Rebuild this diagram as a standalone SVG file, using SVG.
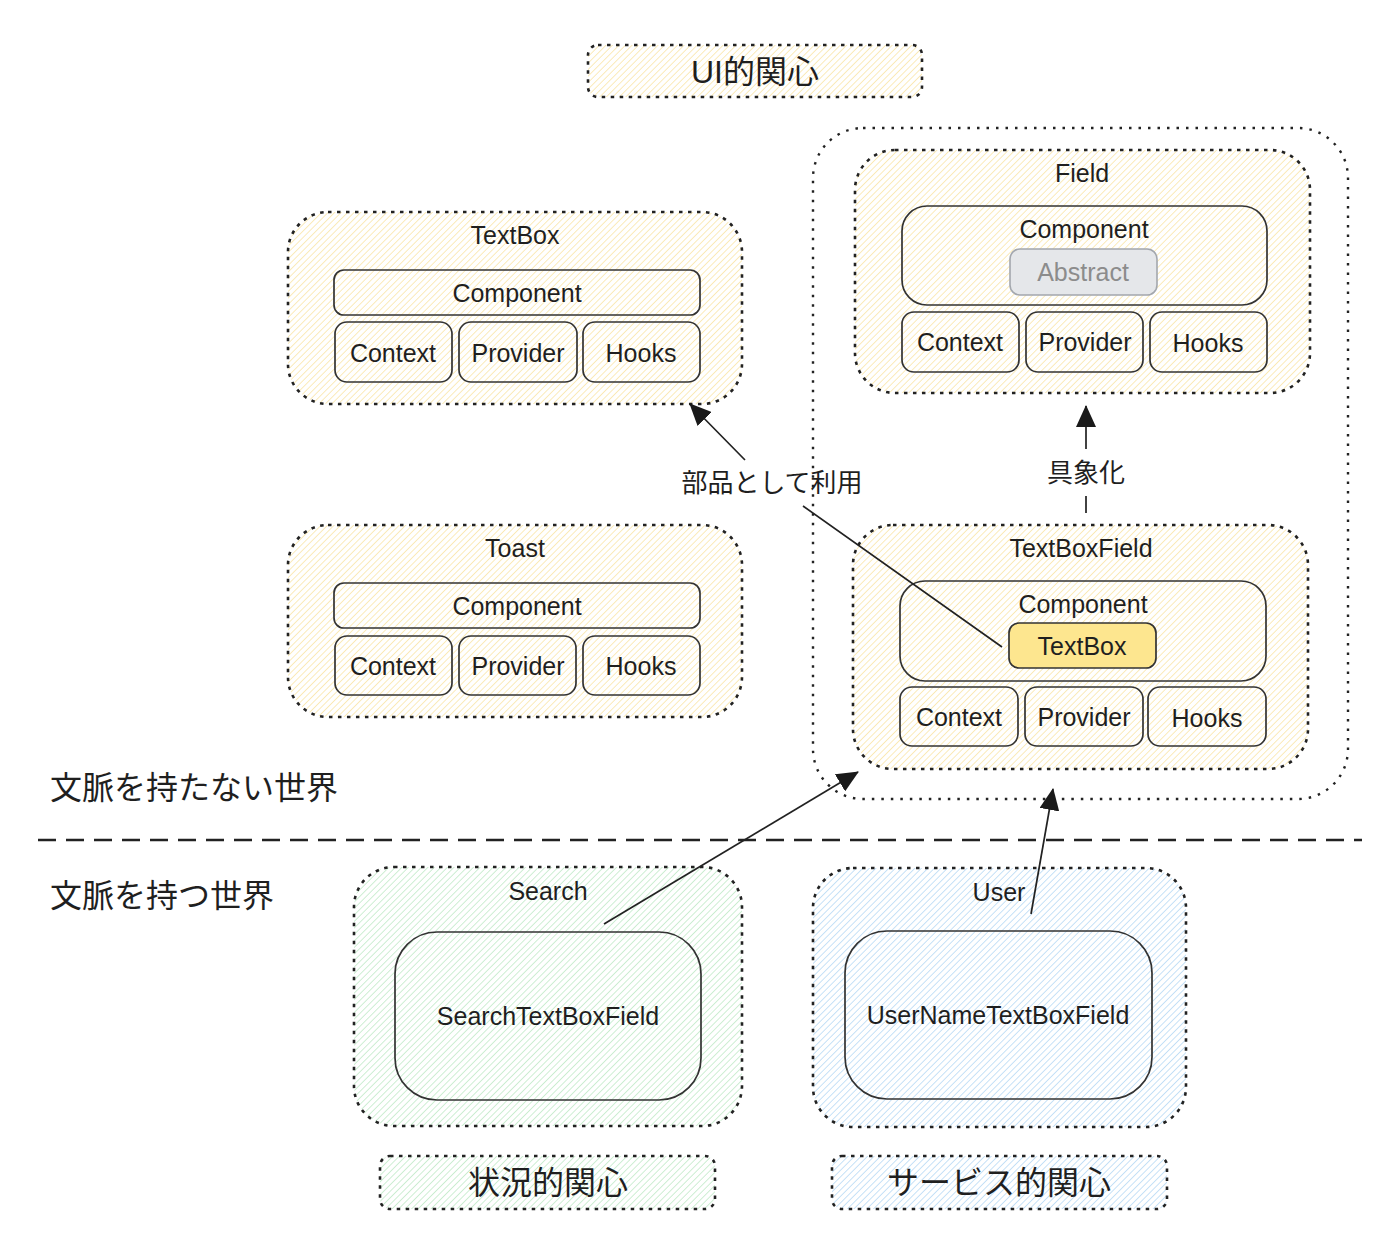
<svg xmlns="http://www.w3.org/2000/svg" width="1400" height="1254" viewBox="0 0 1400 1254">
<defs>
<pattern id="hy" width="4.6" height="4.6" patternUnits="userSpaceOnUse" patternTransform="rotate(45)">
<line x1="0" y1="0" x2="0" y2="4.6" stroke="#f8e096" stroke-width="1.3"/>
</pattern>
<pattern id="hg" width="4.6" height="4.6" patternUnits="userSpaceOnUse" patternTransform="rotate(45)">
<line x1="0" y1="0" x2="0" y2="4.6" stroke="#b3e5bc" stroke-width="1.3"/>
</pattern>
<pattern id="hb" width="4.6" height="4.6" patternUnits="userSpaceOnUse" patternTransform="rotate(45)">
<line x1="0" y1="0" x2="0" y2="4.6" stroke="#a8d2f2" stroke-width="1.3"/>
</pattern>
<marker id="arr" viewBox="0 0 22 20" refX="21" refY="10" markerWidth="22" markerHeight="20" markerUnits="userSpaceOnUse" orient="auto">
<path d="M0,0 L22,10 L0,20 Z" fill="#1a1a1a"/>
</marker>
</defs>
<style>
text{font-family:"Liberation Sans","Noto Sans CJK JP",sans-serif;fill:#1f1f1f;text-anchor:middle}
.t{font-size:25px}
.j{font-size:26px}
.big{font-size:32px}
.left{text-anchor:start}
.grp{stroke:#222;stroke-width:2.6;stroke-dasharray:3.5 5.5}
.outer{fill:none;stroke:#222;stroke-width:2.4;stroke-dasharray:2.5 7}
.box{fill:none;stroke:#333;stroke-width:1.7}
.y{fill:url(#hy)}
.g{fill:url(#hg)}
.b{fill:url(#hb)}
.edge{fill:none;stroke:#222;stroke-width:1.7}
</style>
<rect width="1400" height="1254" fill="#ffffff"/>

<g id="label-ui">
<rect class="grp y" x="588" y="45" width="334" height="52" rx="10"/>
<text class="big" x="755" y="83">UI的関心</text>
</g>

<g id="ui-container">
<rect class="outer" x="813" y="128" width="535" height="671" rx="50"/>
</g>

<g id="textbox">
<rect class="grp y" x="288" y="212" width="454" height="192" rx="40"/>
<text class="t" x="515" y="244">TextBox</text>
<rect class="box" x="334" y="270" width="366" height="45" rx="10"/>
<text class="t" x="517" y="302">Component</text>
<rect class="box" x="335" y="322" width="117" height="60" rx="12"/>
<text class="t" x="393" y="362">Context</text>
<rect class="box" x="459" y="322" width="118" height="60" rx="12"/>
<text class="t" x="518" y="362">Provider</text>
<rect class="box" x="583" y="322" width="117" height="60" rx="12"/>
<text class="t" x="641" y="362">Hooks</text>
</g>

<g id="toast">
<rect class="grp y" x="288" y="525" width="454" height="192" rx="40"/>
<text class="t" x="515" y="557">Toast</text>
<rect class="box" x="334" y="583" width="366" height="45" rx="10"/>
<text class="t" x="517" y="615">Component</text>
<rect class="box" x="335" y="636" width="117" height="59" rx="12"/>
<text class="t" x="393" y="675">Context</text>
<rect class="box" x="459" y="636" width="117" height="59" rx="12"/>
<text class="t" x="518" y="675">Provider</text>
<rect class="box" x="583" y="636" width="117" height="59" rx="12"/>
<text class="t" x="641" y="675">Hooks</text>
</g>

<g id="field">
<rect class="grp y" x="855" y="150" width="455" height="243" rx="40"/>
<text class="t" x="1082" y="182">Field</text>
<rect class="box" x="902" y="206" width="365" height="99" rx="25"/>
<text class="t" x="1084" y="238">Component</text>
<rect x="1010" y="249" width="147" height="46" rx="10" fill="#e5e7ea" stroke="#a3a7ad" stroke-width="1.6"/>
<text class="t" x="1083" y="281" style="fill:#8c8c8c">Abstract</text>
<rect class="box" x="902" y="312" width="117" height="60" rx="12"/>
<text class="t" x="960" y="351">Context</text>
<rect class="box" x="1026" y="312" width="117" height="60" rx="12"/>
<text class="t" x="1085" y="351">Provider</text>
<rect class="box" x="1150" y="312" width="117" height="60" rx="12"/>
<text class="t" x="1208" y="352">Hooks</text>
</g>

<g id="textboxfield">
<rect class="grp y" x="853" y="525" width="455" height="244" rx="40"/>
<text class="t" x="1081" y="557">TextBoxField</text>
<rect class="box" x="900" y="581" width="366" height="100" rx="25"/>
<text class="t" x="1083" y="613">Component</text>
<rect x="1009" y="623" width="147" height="45" rx="10" fill="#fde68f" stroke="#333" stroke-width="1.7"/>
<text class="t" x="1082" y="655">TextBox</text>
<rect class="box" x="900" y="687" width="118" height="59" rx="12"/>
<text class="t" x="959" y="726">Context</text>
<rect class="box" x="1025" y="687" width="118" height="59" rx="12"/>
<text class="t" x="1084" y="726">Provider</text>
<rect class="box" x="1148" y="687" width="118" height="59" rx="12"/>
<text class="t" x="1207" y="727">Hooks</text>
</g>

<g id="world-labels">
<text class="big left" x="50" y="799">文脈を持たない世界</text>
<text class="big left" x="50" y="907">文脈を持つ世界</text>
<line x1="38" y1="840" x2="1362" y2="840" stroke="#222" stroke-width="2.5" stroke-dasharray="18 10"/>
</g>

<g id="search">
<rect class="grp g" x="354" y="867" width="388" height="259" rx="40"/>
<text class="t" x="548" y="900">Search</text>
<rect class="box" x="395" y="932" width="306" height="168" rx="42"/>
<text class="t" x="548" y="1025">SearchTextBoxField</text>
</g>

<g id="label-situation">
<rect class="grp g" x="380" y="1156" width="335" height="53" rx="10"/>
<text class="big" x="548" y="1194">状況的関心</text>
</g>

<g id="user">
<rect class="grp b" x="813" y="868" width="373" height="259" rx="40"/>
<text class="t" x="999" y="901">User</text>
<rect class="box" x="845" y="931" width="307" height="168" rx="42"/>
<text class="t" x="998" y="1024">UserNameTextBoxField</text>
</g>

<g id="label-service">
<rect class="grp b" x="832" y="1156" width="335" height="53" rx="10"/>
<text class="big" x="999" y="1194">サービス的関心</text>
</g>

<g id="connectors">
<path class="edge" d="M1002,647 L803,506 M745,460 L690,404" marker-end="url(#arr)"/>
<text class="j" x="772" y="492">部品として利用</text>
<path class="edge" d="M1086,513 L1086,496 M1086,449 L1086,406" marker-end="url(#arr)"/>
<text class="j" x="1086" y="482">具象化</text>
<path class="edge" d="M604,924 L858,772" marker-end="url(#arr)"/>
<path class="edge" d="M1031,914 L1053,789" marker-end="url(#arr)"/>
</g>
</svg>
